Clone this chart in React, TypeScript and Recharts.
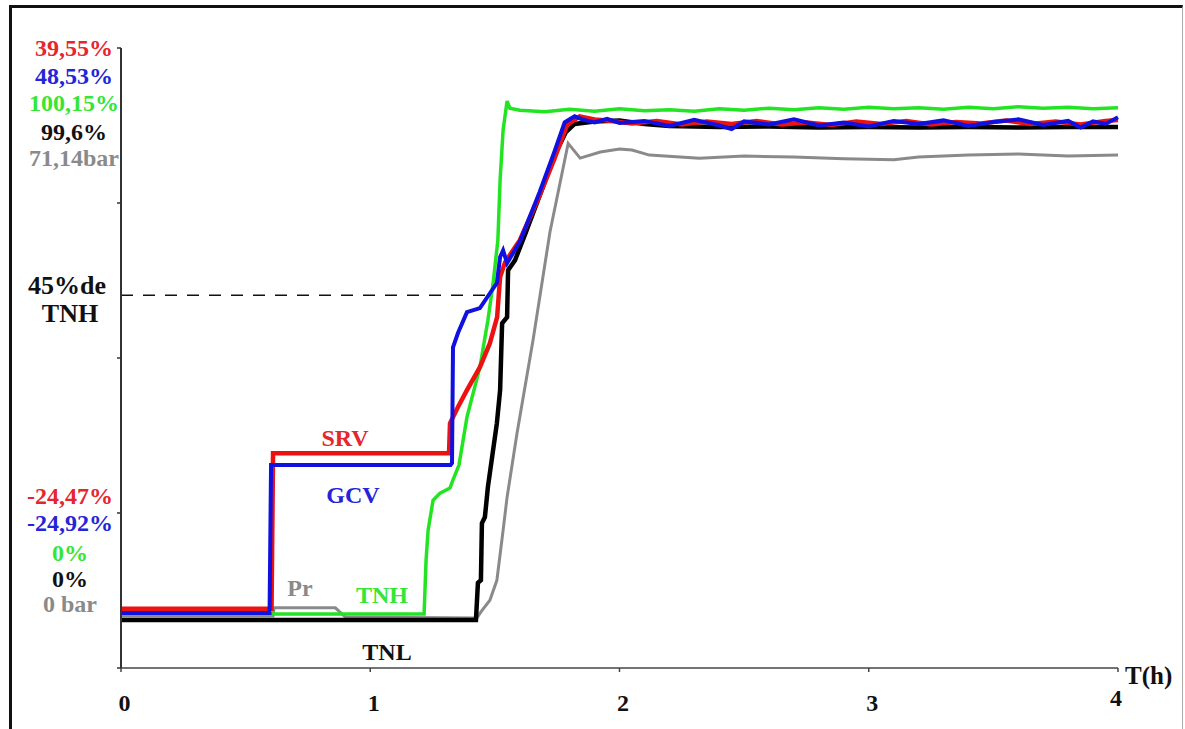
import React from 'react';
import { LineChart, Line, XAxis, YAxis, ReferenceLine } from 'recharts';

// time in hours, value in % of the common display scale (0 = start level)
const timeTicks = [0, 1, 2, 3, 4];
const Y_MIN = -9.4;
const Y_MAX = 112.2;

const srvPoints = [
  [0, 2.2], [0.604, 2.2], [0.61, 32.7], [1.316, 32.7], [1.32, 38.6], [1.352, 41.8],
  [1.388, 45.1], [1.44, 49.6], [1.48, 54.3], [1.509, 59.4], [1.521, 67.3], [1.541, 70.2],
  [1.6, 74.5], [1.68, 83.3], [1.74, 90.6], [1.79, 97.1], [1.84, 98.8], [1.9, 98.2],
  [1.95, 98.0], [2.05, 97.4], [2.15, 97.9], [2.25, 97.2], [2.35, 97.8], [2.45, 97.3],
  [2.55, 97.9], [2.65, 97.2], [2.75, 97.6], [2.85, 97.1], [2.95, 97.8], [3.05, 97.3],
  [3.15, 97.9], [3.25, 97.2], [3.35, 97.7], [3.45, 97.4], [3.55, 98.0], [3.65, 97.3],
  [3.75, 97.8], [3.85, 97.2], [3.95, 97.9], [4.0, 98.1],
];

const gcvPoints = [
  [0, 1.4], [0.596, 1.4], [0.602, 30.4], [1.322, 30.4], [1.328, 30.8], [1.332, 53.5],
  [1.352, 56.3], [1.388, 60.4], [1.44, 61.2], [1.48, 64.1], [1.508, 66.1], [1.521, 71.2],
  [1.533, 72.5], [1.549, 70.0], [1.6, 74.2], [1.68, 84.0], [1.74, 92.0], [1.78, 97.6],
  [1.82, 98.8], [1.85, 98.2], [1.9, 97.6], [1.95, 98.3], [2.0, 97.5], [2.1, 97.9],
  [2.2, 96.9], [2.3, 98.1], [2.4, 97.0], [2.45, 96.3], [2.5, 97.8], [2.6, 97.2],
  [2.7, 98.2], [2.8, 97.0], [2.9, 97.6], [3.0, 96.8], [3.1, 97.9], [3.2, 97.3],
  [3.3, 98.0], [3.4, 96.9], [3.5, 97.7], [3.6, 98.2], [3.7, 97.1], [3.8, 97.9],
  [3.85, 96.6], [3.9, 97.8], [3.95, 97.3], [4.0, 98.6],
];

const tnhPoints = [
  [0, 1.2], [1.216, 1.2], [1.224, 11.8], [1.232, 17.6], [1.252, 23.5], [1.28, 24.9],
  [1.32, 25.9], [1.332, 27.5], [1.356, 30.4], [1.388, 39.8], [1.44, 49.6], [1.472, 58.8],
  [1.492, 65.7], [1.512, 74.5], [1.521, 86.3], [1.533, 96.1], [1.549, 101.8], [1.56, 100.4],
  [1.6, 100.0], [1.7, 99.7], [1.8, 100.2], [1.9, 99.8], [2.0, 100.3], [2.1, 99.9],
  [2.2, 100.1], [2.3, 99.8], [2.4, 100.3], [2.5, 100.0], [2.6, 100.4], [2.7, 100.1],
  [2.8, 100.5], [2.9, 100.2], [3.0, 100.6], [3.1, 100.3], [3.2, 100.5], [3.3, 100.2],
  [3.4, 100.6], [3.5, 100.3], [3.6, 100.7], [3.7, 100.4], [3.8, 100.6], [3.9, 100.3],
  [4.0, 100.5],
];

const tnlPoints = [
  [0, 0], [1.424, 0], [1.432, 7.3], [1.444, 7.8], [1.448, 19.0], [1.46, 20.2],
  [1.472, 26.1], [1.508, 38.6], [1.521, 45.1], [1.529, 58.2], [1.549, 59.4], [1.553, 68.6],
  [1.581, 70.6], [1.62, 75.5], [1.68, 83.3], [1.74, 91.2], [1.785, 95.7], [1.82, 97.3],
  [1.9, 97.8], [2.0, 98.0], [2.1, 97.3], [2.2, 96.9], [2.4, 96.7], [2.6, 96.8],
  [2.8, 96.6], [3.0, 96.7], [3.2, 96.6], [3.4, 96.7], [3.6, 96.6], [3.8, 96.7], [4.0, 96.7],
];

const prPoints = [
  [0, 0.8], [0.61, 0.8], [0.614, 2.4], [0.86, 2.4], [0.9, 0.6], [1.428, 0.4],
  [1.444, 1.6], [1.48, 3.9], [1.508, 7.8], [1.533, 17.6], [1.549, 24.1], [1.589, 36.7],
  [1.653, 54.9], [1.721, 76.1], [1.794, 93.5], [1.842, 90.6], [1.923, 91.8], [2.0, 92.4],
  [2.05, 92.2], [2.12, 91.2], [2.32, 90.6], [2.5, 91.0], [2.7, 90.8], [2.9, 90.5],
  [3.1, 90.3], [3.2, 90.8], [3.4, 91.2], [3.6, 91.4], [3.8, 91.0], [4.0, 91.2],
];

// level of the "45% de TNH" reference and where the dashes stop
const refLevel = 63.7;
const refEnd = 1.48;

const toRows = (pts: number[][]) => pts.map(([t, v]) => ({ t, v }));

const serif = '"Liberation Serif", "Times New Roman", serif';

const XTick = (props: any) => {
  const { x, payload } = props;
  const last = payload.value === 4;
  return (
    <text
      x={x + (last ? -2 : 3.5)}
      y={last ? 706 : 711}
      textAnchor="middle"
      fontFamily={serif}
      fontWeight="bold"
      fontSize={24}
      fill="#111"
    >
      {payload.value}
    </text>
  );
};

const NoTick = () => <g />;

const leftTop = [
  { text: '39,55%', color: '#e8242c', y: 56 },
  { text: '48,53%', color: '#2424d8', y: 84 },
  { text: '100,15%', color: '#36e636', y: 111 },
  { text: '99,6%', color: '#111', y: 140 },
  { text: '71,14bar', color: '#8a8a8a', y: 166 },
];

const leftBottom = [
  { text: '-24,47%', color: '#e8242c', y: 504 },
  { text: '-24,92%', color: '#2424d8', y: 531 },
  { text: '0%', color: '#36e636', y: 561 },
  { text: '0%', color: '#111', y: 587 },
  { text: '0 bar', color: '#8a8a8a', y: 612 },
];

const curveLabels = [
  { text: 'SRV', color: '#e8242c', x: 345, y: 446 },
  { text: 'GCV', color: '#2424d8', x: 353, y: 503 },
  { text: 'Pr', color: '#8a8a8a', x: 300, y: 596 },
  { text: 'TNH', color: '#36e636', x: 382, y: 603 },
  { text: 'TNL', color: '#111', x: 387, y: 660 },
];

export default function App() {
  const yTicks = [0, 1, 2, 3, 4].map((k) => Y_MIN + (k * (Y_MAX - Y_MIN)) / 4);
  return (
    <div style={{ position: 'absolute', left: 0, top: 0, width: 1185, height: 729, background: '#fff' }}>
      <div
        style={{
          position: 'absolute',
          left: 9,
          top: 5,
          width: 1170,
          height: 740,
          borderTop: '3px solid #111',
          borderLeft: '3px solid #111',
          borderRight: '1px solid #aaa',
        }}
      />
      <div style={{ position: 'absolute', left: 0, top: 0 }}>
        <LineChart
          width={1185}
          height={729}
          margin={{ top: 48, right: 67, bottom: 31, left: 81 }}
        >
          <XAxis
            type="number"
            dataKey="t"
            domain={[0, 4]}
            ticks={timeTicks}
            height={30}
            axisLine={{ stroke: '#444', strokeWidth: 1.5 }}
            tickLine={{ stroke: '#444', strokeWidth: 1.5 }}
            tickSize={4}
            tick={<XTick />}
            allowDuplicatedCategory={false}
          />
          <YAxis
            type="number"
            domain={[Y_MIN, Y_MAX]}
            ticks={yTicks}
            width={40}
            axisLine={{ stroke: '#333', strokeWidth: 2 }}
            tickLine={{ stroke: '#333', strokeWidth: 1.5 }}
            tickSize={4}
            tick={<NoTick />}
            allowDataOverflow
          />
          <ReferenceLine
            segment={[{ x: 0, y: refLevel }, { x: refEnd, y: refLevel }]}
            stroke="#111"
            strokeWidth={1.5}
            strokeDasharray="12 10"
          />
          <Line data={toRows(prPoints)} dataKey="v" type="linear" stroke="#8a8a8a" strokeWidth={3} dot={false} isAnimationActive={false} />
          <Line data={toRows(tnhPoints)} dataKey="v" type="linear" stroke="#22e422" strokeWidth={3.5} dot={false} isAnimationActive={false} />
          <Line data={toRows(tnlPoints)} dataKey="v" type="linear" stroke="#000" strokeWidth={4.5} dot={false} isAnimationActive={false} />
          <Line data={toRows(srvPoints)} dataKey="v" type="linear" stroke="#ee1111" strokeWidth={4.5} dot={false} isAnimationActive={false} />
          <Line data={toRows(gcvPoints)} dataKey="v" type="linear" stroke="#1010e0" strokeWidth={4} dot={false} isAnimationActive={false} />
        </LineChart>
      </div>
      <svg width={1185} height={729} style={{ position: 'absolute', left: 0, top: 0, pointerEvents: 'none' }}>
        <g fontFamily={serif} fontWeight="bold" textAnchor="middle" fontSize={24}>
          {leftTop.map((l, i) => (
            <text key={'t' + i} x={74} y={l.y} fill={l.color}>{l.text}</text>
          ))}
          {leftBottom.map((l, i) => (
            <text key={'b' + i} x={70} y={l.y} fill={l.color}>{l.text}</text>
          ))}
          {curveLabels.map((l, i) => (
            <text key={'c' + i} x={l.x} y={l.y} fill={l.color}>{l.text}</text>
          ))}
          <text x={67} y={294} fontSize={26} fill="#111">45%de</text>
          <text x={70} y={322} fontSize={26} fill="#111">TNH</text>
          <text x={1125} y={684} fontSize={25} textAnchor="start" fill="#111">T(h)</text>
        </g>
      </svg>
    </div>
  );
}
